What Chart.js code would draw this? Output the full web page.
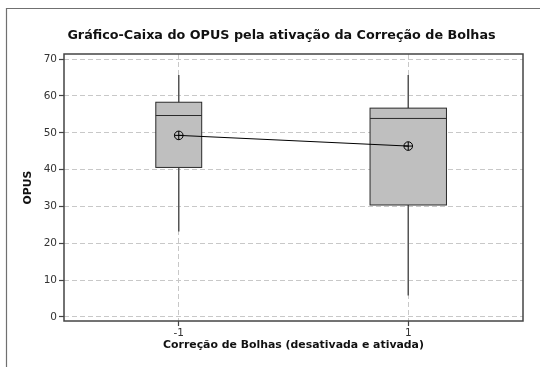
<!DOCTYPE html>
<html>
<head>
<meta charset="utf-8">
<script src="https://cdn.jsdelivr.net/npm/chart.js@4.4.1/dist/chart.umd.min.js"></script>
<style>
  html, body { margin: 0; padding: 0; background: #fff; }
  #wrap { position: relative; width: 540px; height: 367px; }
</style>
</head>
<body>
<div id="wrap"><canvas id="c" width="540" height="367"></canvas></div>
<script>
// ---- data ----
const chartTitle = 'Gráfico-Caixa do OPUS pela ativação da Correção de Bolhas';
const xTitle = 'Correção de Bolhas (desativada e ativada)';
const yTitle = 'OPUS';
const categories = [-1, 1];
const whiskerLow = [23.2, 5.8];
const q1 = [40.6, 30.4];
const median = [54.7, 53.9];
const q3 = [58.3, 56.7];
const whiskerHigh = [65.7, 65.7];
const means = [49.3, 46.4];
const yTicks = [0, 10, 20, 30, 40, 50, 60, 70];
const xTicks = [-1, 1];
const xTickLabels = ['-1', '1'];

const FONT = "'DejaVu Sans', Verdana, sans-serif";

const boxPlugin = {
  id: 'boxes',
  beforeDatasetsDraw(chart, args, opts) {
    const ctx = chart.ctx;
    const xs = chart.scales.x, ys = chart.scales.y;
    ctx.save();
    categories.forEach((c, i) => {
      const cx = xs.getPixelForValue(c);
      const hw = xs.getPixelForValue(c + opts.halfWidths[i]) - cx;
      const yq1 = ys.getPixelForValue(q1[i]);
      const yq3 = ys.getPixelForValue(q3[i]);
      const ymed = ys.getPixelForValue(median[i]);
      const ylo = ys.getPixelForValue(whiskerLow[i]);
      const yhi = ys.getPixelForValue(whiskerHigh[i]);
      // whiskers
      ctx.strokeStyle = '#555555';
      ctx.lineWidth = 1.5;
      ctx.beginPath();
      ctx.moveTo(cx, yq3); ctx.lineTo(cx, yhi);
      ctx.moveTo(cx, yq1); ctx.lineTo(cx, ylo);
      ctx.stroke();
      // box
      ctx.fillStyle = '#bfbfbf';
      ctx.fillRect(cx - hw, yq3, 2 * hw, yq1 - yq3);
      ctx.strokeStyle = '#2a2a2a';
      ctx.lineWidth = 1;
      ctx.strokeRect(cx - hw, yq3, 2 * hw, yq1 - yq3);
      ctx.beginPath();
      ctx.moveTo(cx - hw, ymed); ctx.lineTo(cx + hw, ymed);
      ctx.stroke();
    });
    ctx.restore();
  },
  afterDraw(chart, args, opts) {
    const ctx = chart.ctx;
    const a = chart.chartArea;
    ctx.save();
    // plot frame
    ctx.strokeStyle = '#444444';
    ctx.lineWidth = 1.5;
    ctx.strokeRect(a.left, a.top, a.right - a.left, a.bottom - a.top);
    // outer frame (partially visible)
    ctx.strokeStyle = '#707070';
    ctx.lineWidth = 1.2;
    ctx.beginPath();
    ctx.moveTo(6.5, chart.height);
    ctx.lineTo(6.5, 8.5);
    ctx.lineTo(chart.width, 8.5);
    ctx.stroke();
    // title
    ctx.fillStyle = '#111111';
    ctx.font = 'bold 12.75px ' + FONT;
    ctx.textAlign = 'center';
    ctx.textBaseline = 'middle';
    ctx.fillText(chartTitle, (a.left + a.right) / 2 + opts.titleShift, opts.titleY);
    ctx.restore();
  }
};

new Chart(document.getElementById('c'), {
  type: 'scatter',
  data: {
    datasets: [
      {
        data: categories.map((c, i) => ({x: c, y: means[i]})),
        showLine: true,
        borderColor: '#000000',
        borderWidth: 1,
        pointStyle: 'circle',
        pointRadius: 4.3,
        pointBorderWidth: 1,
        pointBorderColor: '#000000',
        pointBackgroundColor: 'rgba(0,0,0,0)'
      },
      {
        data: categories.map((c, i) => ({x: c, y: means[i]})),
        showLine: false,
        pointStyle: 'cross',
        pointRadius: 4.3,
        pointBorderWidth: 1,
        pointBorderColor: '#000000'
      }
    ]
  },
  options: {
    responsive: false,
    animation: false,
    events: [],
    layout: { padding: { top: 54, right: 17, left: 0, bottom: 0 } },
    plugins: {
      legend: { display: false },
      tooltip: { enabled: false },
      title: { display: false },
      boxes: { halfWidths: [0.2, 0.333], titleShift: -12, titleY: 36 }
    },
    scales: {
      x: {
        type: 'linear',
        min: -2, max: 2,
        afterBuildTicks(s) { s.ticks = xTicks.map(v => ({value: v})); },
        afterFit(s) { s.height = 46; },
        border: { display: false, dash: [5, 3] },
        grid: {
          color: '#c8c8c8', lineWidth: 1,
          drawTicks: true, tickLength: 5, tickColor: '#444444', tickBorderDash: [], tickWidth: 1.2
        },
        ticks: {
          color: '#333333', font: { family: FONT, size: 10.5 }, padding: 1, maxRotation: 0,
          callback(v) { const k = xTicks.indexOf(v); return k >= 0 ? xTickLabels[k] : ''; }
        },
        title: { display: true, text: xTitle, color: '#111111',
                 font: { family: FONT, size: 10.9, weight: 'bold' }, padding: { top: 0, bottom: 15 } }
      },
      y: {
        type: 'linear',
        min: -1.1, max: 71.4,
        afterBuildTicks(s) { s.ticks = yTicks.map(v => ({value: v})); },
        afterFit(s) { s.width = 64; },
        border: { display: false, dash: [5, 3] },
        grid: {
          color: '#c8c8c8', lineWidth: 1,
          drawTicks: true, tickLength: 5, tickColor: '#444444', tickBorderDash: [], tickWidth: 1.2
        },
        ticks: { color: '#333333', font: { family: FONT, size: 10.5 }, padding: 2 },
        title: { display: true, text: yTitle, color: '#111111',
                 font: { family: FONT, size: 10.9, weight: 'bold' }, padding: { top: 22, bottom: 0 } }
      }
    }
  },
  plugins: [boxPlugin]
});
</script>
</body>
</html>
